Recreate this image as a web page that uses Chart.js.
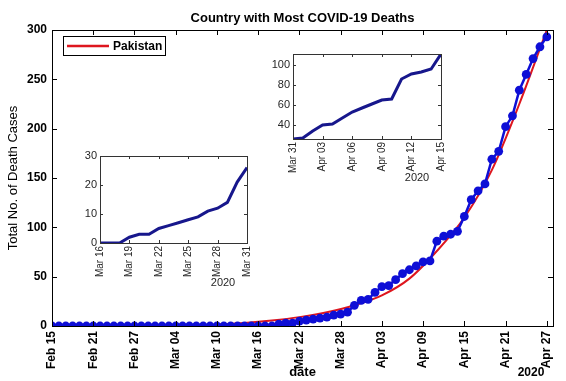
<!DOCTYPE html>
<html>
<head>
<meta charset="utf-8">
<script src="https://cdn.jsdelivr.net/npm/chart.js@4.4.1/dist/chart.umd.min.js"></script>
<style>
  html, body { margin: 0; padding: 0; background: #ffffff; }
  #wrap { position: relative; width: 566px; height: 381px; overflow: hidden; }
  canvas { position: absolute; }
</style>
</head>
<body>
<div id="wrap">
  <canvas id="main" width="566" height="381" style="left:0;top:0;width:566px;height:381px"></canvas>
  <canvas id="inset1" width="180" height="140" style="left:72px;top:150px;width:180px;height:140px"></canvas>
  <canvas id="inset2" width="183" height="136" style="left:263px;top:48px;width:183px;height:136px"></canvas>
</div>
<script>
// ---------------- DATA ----------------
const startDateUTC = Date.UTC(2020, 1, 15);   // Feb 15, 2020 = day 0
const yearLabel = '2020';
const seriesName = 'Pakistan';
const chartTitle = 'Country with Most COVID-19 Deaths';
const xAxisTitle = 'date';
const yAxisTitle = 'Total No. of Death Cases';

// cumulative deaths, one value per day from Feb 15 (day 0) to Apr 27 (day 72)
const deaths = [
  0,0,0,0,0,0,0,0,0,0,          // Feb 15 - Feb 24
  0,0,0,0,0,0,0,0,0,0,          // Feb 25 - Mar 05
  0,0,0,0,0,0,0,0,0,0,          // Mar 06 - Mar 15
  0,0,0,2,3,3,5,6,7,8,          // Mar 16 - Mar 25
  9,11,12,14,21,26,27,34,40,41, // Mar 26 - Apr 04
  47,53,57,61,65,66,86,91,93,96,// Apr 05 - Apr 14
  111,128,137,144,169,177,202,213,239,255, // Apr 15 - Apr 24
  271,283,293                   // Apr 25 - Apr 27
];

// fitted (red) curve at sample days
const fitDays   = [0, 8, 16, 20, 24, 28, 32, 36, 40, 44, 48, 52, 56, 60, 64, 68, 72];
const fitValues = [0, 0.1, 0.4, 0.8, 1.5, 3, 5.5, 9, 14, 21, 31, 48, 76, 110, 158, 225, 300];

// tick positions (day index)
const mainTickDays   = [0, 6, 12, 18, 24, 30, 36, 42, 48, 54, 60, 66, 72];
const mainYTicks     = [0, 50, 100, 150, 200, 250, 300];
const inset1TickDays = [30, 33, 36, 39, 42, 45];   // Mar 16 .. Mar 31
const inset1YTicks   = [0, 10, 20, 30];
const inset2TickDays = [45, 48, 51, 54, 57, 60];   // Mar 31 .. Apr 15
const inset2YTicks   = [40, 60, 80, 100];

// ---------------- HELPERS ----------------
const MONTHS = ['Jan','Feb','Mar','Apr','May','Jun','Jul','Aug','Sep','Oct','Nov','Dec'];
function dayLabel(d) {
  const dt = new Date(startDateUTC + Math.round(d) * 86400000);
  return MONTHS[dt.getUTCMonth()] + ' ' + String(dt.getUTCDate()).padStart(2, '0');
}
function pts(fromDay, toDay) {
  const out = [];
  for (let d = fromDay; d <= toDay; d++) out.push({ x: d, y: deaths[d] });
  return out;
}
const FONT = "'Liberation Sans', Arial, sans-serif";

// box + inward tick marks on all four sides (MATLAB style), plus extra texts
const boxPlugin = {
  id: 'boxTicks',
  beforeDatasetsDraw(chart, args, opts) {
    const a = chart.chartArea, ctx = chart.ctx;
    if (opts.fillWhite) {
      ctx.save(); ctx.fillStyle = '#ffffff';
      ctx.fillRect(a.left, a.top, a.right - a.left, a.bottom - a.top);
      ctx.restore();
    }
  },
  afterDatasetsDraw(chart, args, opts) {
    const a = chart.chartArea, ctx = chart.ctx;
    const xs = chart.scales.x, ys = chart.scales.y;
    const L = opts.tickLen || 4;
    ctx.save();
    ctx.strokeStyle = opts.color || '#000';
    ctx.lineWidth = opts.lineWidth || 1;
    ctx.beginPath();
    xs.ticks.forEach(t => {
      const px = Math.round(xs.getPixelForValue(t.value)) + 0.5;
      ctx.moveTo(px, a.bottom); ctx.lineTo(px, a.bottom - L);
      ctx.moveTo(px, a.top); ctx.lineTo(px, a.top + L);
    });
    ys.ticks.forEach(t => {
      const py = Math.round(ys.getPixelForValue(t.value)) + 0.5;
      ctx.moveTo(a.left, py); ctx.lineTo(a.left + L, py);
      ctx.moveTo(a.right, py); ctx.lineTo(a.right - L, py);
    });
    ctx.stroke();
    ctx.strokeRect(Math.round(a.left) + 0.5, Math.round(a.top) + 0.5,
                   Math.round(a.right - a.left), Math.round(a.bottom - a.top));
    // year label
    if (opts.year) {
      ctx.fillStyle = opts.yearColor || '#000';
      ctx.font = opts.yearFont;
      ctx.textAlign = 'center'; ctx.textBaseline = 'middle';
      ctx.fillText(opts.year, a.right + opts.yearDx, a.bottom + opts.yearDy);
    }
    // title + legend (main only)
    if (opts.title) {
      ctx.fillStyle = '#000';
      ctx.font = 'bold 13px ' + FONT;
      ctx.textAlign = 'center'; ctx.textBaseline = 'middle';
      ctx.fillText(opts.title, (a.left + a.right) / 2, a.top - 12);
    }
    if (opts.legend) {
      const ds = chart.data.datasets.find(d => d.label === opts.legend);
      const bx = a.left + 11, by = a.top + 6, bw = 102, bh = 19;
      ctx.fillStyle = '#fff'; ctx.fillRect(bx, by, bw, bh);
      ctx.strokeStyle = '#000'; ctx.lineWidth = 1;
      ctx.strokeRect(bx + 0.5, by + 0.5, bw, bh);
      ctx.strokeStyle = ds.borderColor; ctx.lineWidth = 2.5;
      ctx.beginPath(); ctx.moveTo(bx + 4, by + bh / 2 + 0.5); ctx.lineTo(bx + 46, by + bh / 2 + 0.5); ctx.stroke();
      ctx.fillStyle = '#000'; ctx.font = 'bold 12px ' + FONT;
      ctx.textAlign = 'left'; ctx.textBaseline = 'middle';
      ctx.fillText(opts.legend, bx + 50, by + bh / 2 + 1);
    }
    ctx.restore();
  }
};

function fixedTicks(values) {
  return (scale) => { scale.ticks = values.map(v => ({ value: v })); };
}
function fitX(h) {
  return (s) => { s.height = h; s.paddingLeft = 0; s.paddingRight = 0; };
}
function fitY(w) {
  return (s) => { s.width = w; s.paddingTop = 0; s.paddingBottom = 0; };
}

// ---------------- MAIN CHART ----------------
new Chart(document.getElementById('main'), {
  type: 'line',
  data: {
    datasets: [
      {
        label: seriesName,
        data: fitDays.map((d, i) => ({ x: d, y: fitValues[i] })),
        borderColor: 'rgb(222,22,30)',
        borderWidth: 2,
        pointRadius: 0,
        cubicInterpolationMode: 'monotone',
        order: 2
      },
      {
        label: 'deaths',
        data: pts(0, 72),
        borderColor: 'rgb(14,14,214)',
        backgroundColor: 'rgb(14,14,214)',
        borderWidth: 2.5,
        pointRadius: 4.4,
        pointBorderWidth: 0,
        tension: 0,
        order: 1
      }
    ]
  },
  options: {
    responsive: false, animation: false, devicePixelRatio: 1,
    layout: { padding: { left: 0, top: 30, right: 13, bottom: 0 } },
    plugins: {
      legend: { display: false }, tooltip: { enabled: false },
      boxTicks: {
        tickLen: 5, color: '#000',
        title: chartTitle, legend: seriesName,
        year: yearLabel, yearFont: 'bold 12px ' + FONT, yearDx: -22, yearDy: 47
      }
    },
    scales: {
      x: {
        type: 'linear', min: 0, max: 72.9,
        afterBuildTicks: fixedTicks(mainTickDays),
        afterFit: fitX(55),
        grid: { display: false, drawTicks: false },
        border: { display: false },
        ticks: {
          autoSkip: false, minRotation: 90, maxRotation: 90, padding: 5,
          color: '#000', font: { family: FONT, size: 12, weight: 'bold' },
          callback: (v) => dayLabel(v)
        },
        title: { display: true, text: xAxisTitle, color: '#000',
                 font: { family: FONT, size: 13, weight: 'bold' }, padding: { top: 0, bottom: 1 } }
      },
      y: {
        type: 'linear', min: 0, max: 300,
        afterBuildTicks: fixedTicks(mainYTicks),
        afterFit: fitY(52),
        grid: { display: false, drawTicks: false },
        border: { display: false },
        ticks: { padding: 5, color: '#000', font: { family: FONT, size: 12, weight: 'bold' } },
        title: { display: true, text: yAxisTitle, color: '#000',
                 font: { family: FONT, size: 13 }, padding: { top: 6, bottom: 0 } }
      }
    }
  },
  plugins: [boxPlugin]
});

// ---------------- INSETS ----------------
function makeInset(id, fromDay, toDay, ymin, ymax, xTicks, yTicks, geo) {
  return new Chart(document.getElementById(id), {
    type: 'line',
    data: {
      datasets: [{
        label: 'zoom',
        data: pts(fromDay, toDay),
        borderColor: '#17178c',
        borderWidth: 3,
        pointRadius: 0,
        tension: 0
      }]
    },
    options: {
      responsive: false, animation: false, devicePixelRatio: 1,
      layout: { padding: { left: 0, top: geo.pt, right: geo.pr, bottom: 0 } },
      plugins: {
        legend: { display: false }, tooltip: { enabled: false },
        boxTicks: {
          tickLen: 3, color: '#333', fillWhite: true,
          year: yearLabel, yearFont: '11px ' + FONT, yearColor: '#262626',
          yearDx: geo.yearDx, yearDy: geo.yearDy
        }
      },
      scales: {
        x: {
          type: 'linear', min: fromDay, max: toDay,
          afterBuildTicks: fixedTicks(xTicks),
          afterFit: fitX(geo.xh),
          grid: { display: false, drawTicks: false },
          border: { display: false },
          ticks: {
            autoSkip: false, minRotation: 90, maxRotation: 90, padding: 3,
            color: '#262626', font: { family: FONT, size: 10 },
            callback: (v) => dayLabel(v)
          }
        },
        y: {
          type: 'linear', min: ymin, max: ymax,
          afterBuildTicks: fixedTicks(yTicks),
          afterFit: fitY(geo.yw),
          grid: { display: false, drawTicks: false },
          border: { display: false },
          ticks: { padding: 3, color: '#262626', font: { family: FONT, size: 11 } }
        }
      }
    },
    plugins: [boxPlugin]
  });
}

// inset 1: Mar 16 - Mar 31
makeInset('inset1', 30, 45, 0, 30, inset1TickDays, inset1YTicks,
          { pt: 6, pr: 5, xh: 47, yw: 28, yearDx: -24, yearDy: 40 });
// inset 2: Mar 31 - Apr 15
makeInset('inset2', 45, 60, 26, 111, inset2TickDays, inset2YTicks,
          { pt: 6, pr: 5, xh: 45, yw: 30, yearDx: -24, yearDy: 39 });
</script>
</body>
</html>
